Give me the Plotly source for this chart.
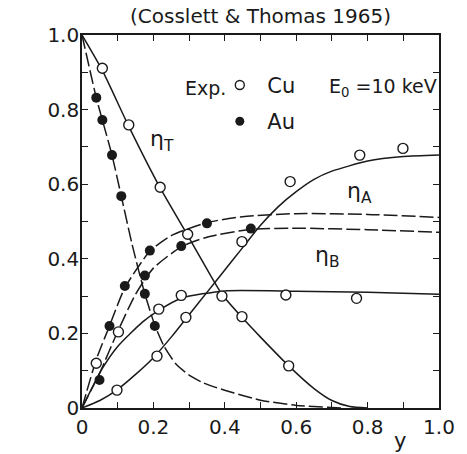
import plotly.graph_objects as go

# ---- theoretical curves ----
cu_t_x = [0, 0.057, 0.131, 0.219, 0.296, 0.35, 0.392, 0.448, 0.5, 0.579, 0.65, 0.70, 0.75, 0.80]
cu_t_y = [1.0, 0.905, 0.755, 0.59, 0.463, 0.372, 0.305, 0.243, 0.19, 0.113, 0.052, 0.02, 0.004, 0.0]

au_t_x = [0, 0.04, 0.057, 0.084, 0.11, 0.14, 0.176, 0.204, 0.23, 0.264, 0.30, 0.336, 0.372, 0.426, 0.5, 0.6, 0.73]
au_t_y = [1.0, 0.832, 0.772, 0.678, 0.568, 0.44, 0.306, 0.222, 0.165, 0.117, 0.088, 0.069, 0.056, 0.04, 0.021, 0.007, 0.0]

cu_b_x = [0, 0.057, 0.10, 0.17, 0.215, 0.28, 0.40, 0.60, 0.80, 1.0]
cu_b_y = [0, 0.106, 0.165, 0.231, 0.262, 0.295, 0.314, 0.313, 0.310, 0.305]

cu_a_x = [0, 0.05, 0.10, 0.15, 0.20, 0.25, 0.30, 0.35, 0.40, 0.45, 0.50, 0.55, 0.60, 0.65, 0.70, 0.80, 0.90, 1.0]
cu_a_y = [0, 0.02, 0.05, 0.09, 0.135, 0.19, 0.25, 0.31, 0.37, 0.43, 0.49, 0.54, 0.58, 0.613, 0.635, 0.662, 0.674, 0.678]

au_b_x = [0, 0.04, 0.077, 0.12, 0.19, 0.25, 0.35, 0.45, 0.60, 0.80, 1.0]
au_b_y = [0, 0.13, 0.22, 0.322, 0.42, 0.462, 0.497, 0.513, 0.521, 0.519, 0.511]

au_a_x = [0, 0.05, 0.10, 0.15, 0.20, 0.278, 0.35, 0.473, 0.60, 0.80, 1.0]
au_a_y = [0, 0.095, 0.205, 0.305, 0.375, 0.432, 0.458, 0.479, 0.482, 0.478, 0.471]

# ---- experimental points ----
cu_pts_x = [0.057, 0.131, 0.219, 0.296, 0.392, 0.448, 0.579,
            0.040, 0.102, 0.215, 0.278, 0.571, 0.769,
            0.098, 0.210, 0.291, 0.448, 0.583, 0.778, 0.899]
cu_pts_y = [0.911, 0.759, 0.592, 0.466, 0.300, 0.245, 0.113,
            0.120, 0.204, 0.265, 0.302, 0.303, 0.294,
            0.048, 0.139, 0.243, 0.446, 0.607, 0.678, 0.696]
au_pts_x = [0.040, 0.057, 0.084, 0.110, 0.176, 0.204,
            0.077, 0.120, 0.190, 0.350,
            0.049, 0.176, 0.278, 0.473]
au_pts_y = [0.832, 0.772, 0.678, 0.568, 0.306, 0.220,
            0.220, 0.327, 0.422, 0.495,
            0.075, 0.355, 0.434, 0.481]

tick_vals = [0, 0.1, 0.2, 0.3, 0.4, 0.5, 0.6, 0.7, 0.8, 0.9, 1.0]
tick_text = ["0", "", "0.2", "", "0.4", "", "0.6", "", "0.8", "", "1.0"]

INK = "#1a1a1a"
FONT = "DejaVu Sans"

fig = go.Figure()

solid = dict(color=INK, width=1.5, shape="spline", smoothing=0.6)
dashed = dict(color=INK, width=1.5, shape="spline", smoothing=0.6, dash="14px,4px")

for xs, ys in [(cu_t_x, cu_t_y), (cu_b_x, cu_b_y), (cu_a_x, cu_a_y)]:
    fig.add_trace(go.Scatter(x=xs, y=ys, mode="lines", line=solid, showlegend=False, hoverinfo="skip"))
for xs, ys in [(au_t_x, au_t_y), (au_b_x, au_b_y), (au_a_x, au_a_y)]:
    fig.add_trace(go.Scatter(x=xs, y=ys, mode="lines", line=dashed, showlegend=False, hoverinfo="skip"))

fig.add_trace(go.Scatter(x=cu_pts_x, y=cu_pts_y, mode="markers", showlegend=False,
                         marker=dict(symbol="circle", size=10, color="white", line=dict(color=INK, width=1.4))))
fig.add_trace(go.Scatter(x=au_pts_x, y=au_pts_y, mode="markers", showlegend=False,
                         marker=dict(symbol="circle", size=10, color=INK, line=dict(color=INK, width=0))))

# legend entries
fig.add_trace(go.Scatter(x=[None], y=[None], mode="markers", name="Cu", legendgroup="cu",
                         marker=dict(symbol="circle", size=9, color="white", line=dict(color=INK, width=1.4))))
fig.add_trace(go.Scatter(x=[None], y=[None], mode="markers", name="Au", legendgroup="au",
                         marker=dict(symbol="circle", size=9, color=INK)))

axis_common = dict(range=[0, 1.0], tickvals=tick_vals, ticktext=tick_text, ticks="inside", ticklen=6,
                   tickwidth=1.3, tickcolor=INK, showline=True, linecolor=INK, linewidth=1.6,
                   mirror="allticks", showgrid=False, zeroline=False, ticklabeloverflow="allow",
                   tickfont=dict(family=FONT, size=20, color=INK))

fig.update_layout(
    width=467, height=454,
    margin=dict(l=82, r=14, t=35, b=46),
    paper_bgcolor="white", plot_bgcolor="white",
    xaxis=dict(**axis_common),
    yaxis=dict(**axis_common, ticklabelstandoff=-3),
    legend=dict(x=0.365, y=0.92, xanchor="left", yanchor="top", bgcolor="rgba(0,0,0,0)",
                font=dict(family=FONT, size=21, color=INK), tracegroupgap=6, itemwidth=45),
    font=dict(family=FONT, color=INK),
)

ann = [
    dict(x=0.5, y=1.0, xref="paper", yref="paper", text="(Cosslett &amp; Thomas 1965)", showarrow=False,
         yanchor="bottom", yshift=5, font=dict(size=20)),
    dict(x=0.345, y=0.858, text="Exp.", showarrow=False, font=dict(size=19)),
    dict(x=0.844, y=0.858, text="E<sub>0</sub> =10 keV", showarrow=False, font=dict(size=19)),
    dict(x=0.224, y=0.718, text="η<sub>T</sub>", showarrow=False, font=dict(size=22)),
    dict(x=0.776, y=0.579, text="η<sub>A</sub>", showarrow=False, font=dict(size=22)),
    dict(x=0.687, y=0.405, text="η<sub>B</sub>", showarrow=False, font=dict(size=22)),
    dict(x=-0.14, y=0.92, text="η<sub>T</sub>", showarrow=False, font=dict(size=22)),
    dict(x=-0.145, y=0.834, text="η<sub>B</sub>", showarrow=False, font=dict(size=22)),
    dict(x=-0.15, y=0.74, text="η<sub>A</sub>", showarrow=False, font=dict(size=22)),
    dict(x=0.892, y=0.0, yref="y", text="y", showarrow=False, yshift=-33, font=dict(size=21)),
]
for a in ann:
    a.setdefault("xref", "x")
    a.setdefault("yref", "y")
    a["font"] = dict(family=FONT, color=INK, **a["font"])
fig.update_layout(annotations=ann)

fig.write_html("out.html")
